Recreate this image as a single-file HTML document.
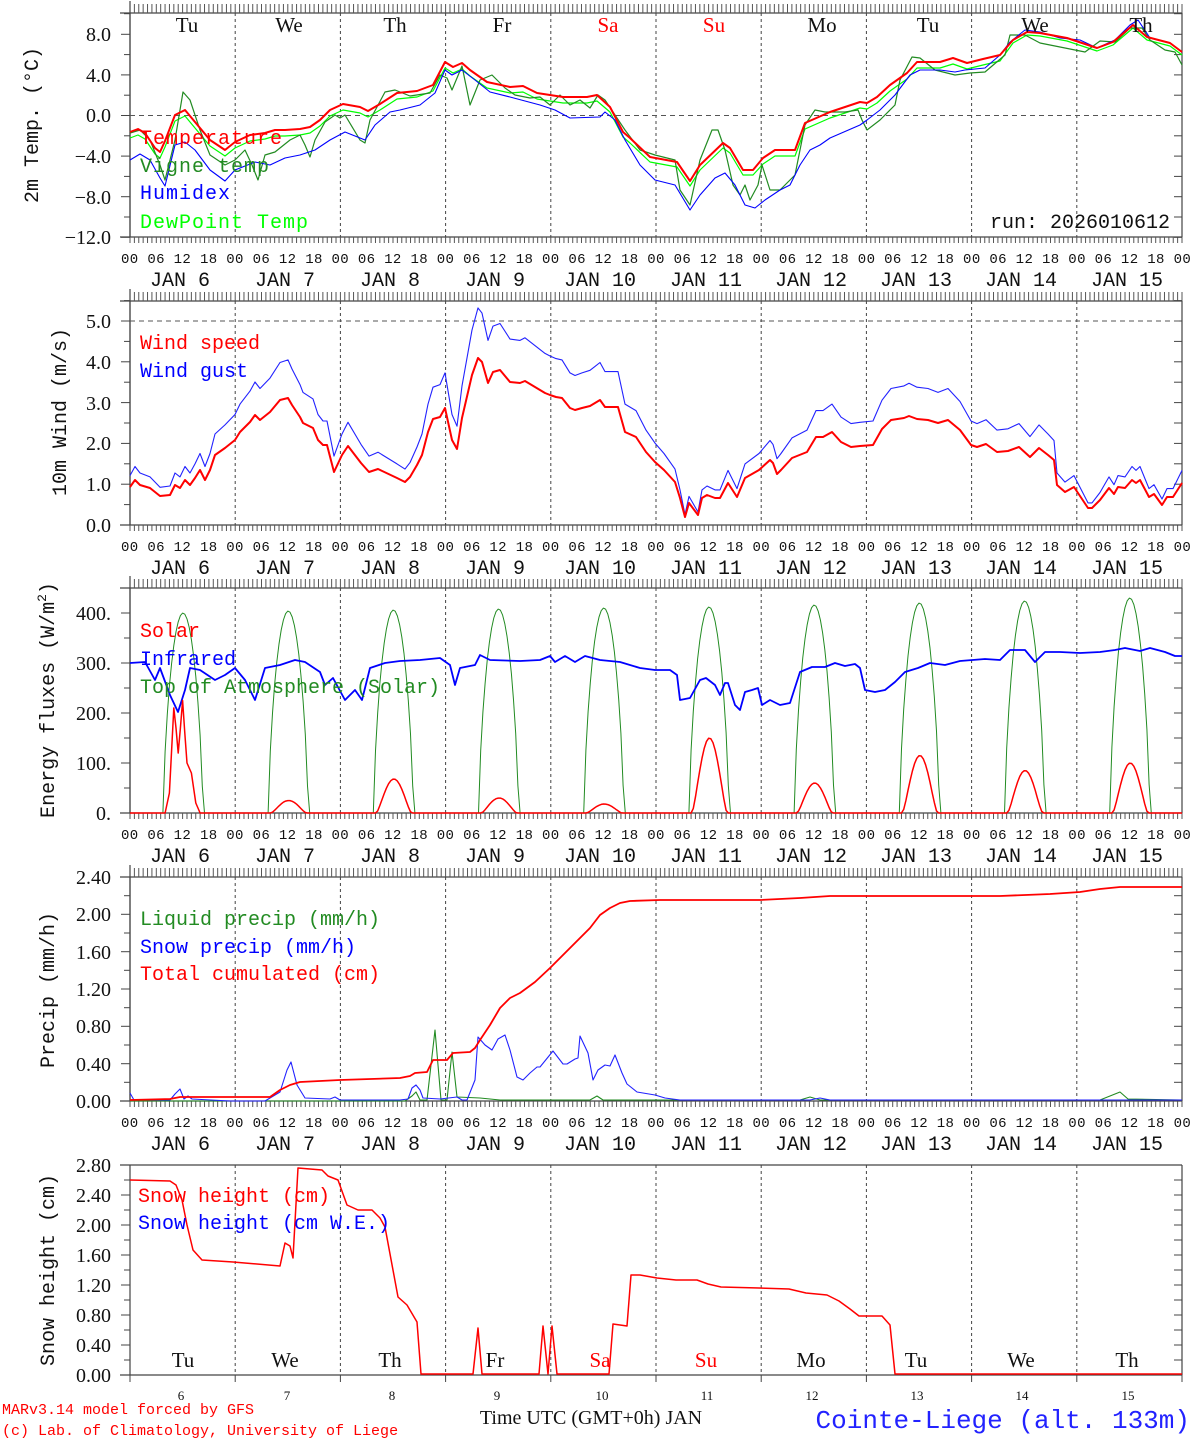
<!DOCTYPE html>
<html><head><meta charset="utf-8">
<style>
html,body{margin:0;padding:0;background:#fff;}
svg{display:block;}
.s{font-family:"Liberation Serif",serif;}
.m{font-family:"Liberation Mono",monospace;}
.yl{font-family:"Liberation Serif",serif;font-size:20px;text-anchor:end;fill:#111;}
.hr{font-family:"Liberation Mono",monospace;font-size:14px;letter-spacing:0.37px;fill:#111;white-space:pre;}
.jn{font-family:"Liberation Mono",monospace;font-size:20px;fill:#111;text-anchor:middle;white-space:pre;}
.lg{font-family:"Liberation Mono",monospace;font-size:20px;}
.dn{font-family:"Liberation Serif",serif;font-size:21px;text-anchor:middle;fill:#111;}
.ti{font-family:"Liberation Mono",monospace;font-size:20px;fill:#111;text-anchor:middle;}
</style></head>
<body>
<svg id="c" width="1194" height="1440" viewBox="0 0 1194 1440" xmlns="http://www.w3.org/2000/svg">
<g id="geo"></g>

<!-- Panel 1 texts -->
<g class="dn">
<text x="187" y="32">Tu</text><text x="289" y="32">We</text><text x="395" y="32">Th</text><text x="502" y="32">Fr</text><text x="608" y="32" fill="#f00">Sa</text><text x="714" y="32" fill="#f00">Su</text><text x="822" y="32">Mo</text><text x="928" y="32">Tu</text><text x="1035" y="32">We</text><text x="1141" y="32">Th</text>
</g>
<g class="yl">
<text x="111" y="41">8.0</text><text x="111" y="82">4.0</text><text x="111" y="122">0.0</text><text x="111" y="163">−4.0</text><text x="111" y="204">−8.0</text><text x="111" y="244">−12.0</text>
</g>
<text class="ti" transform="translate(38,125) rotate(-90)">2m Temp. (°C)</text>
<g class="lg">
<text x="140" y="144" fill="#f00" letter-spacing="1">Temperature</text>
<text x="140" y="172" fill="#228b22" letter-spacing="1">Vigne temp</text>
<text x="140" y="199" fill="#00f" letter-spacing="1">Humidex</text>
<text x="140" y="228" fill="#0f0" letter-spacing="1">DewPoint Temp</text>
<text x="990" y="228" fill="#111">run: 2026010612</text>
</g>
<text class="hr" x="121" y="263">00 06 12 18 00 06 12 18 00 06 12 18 00 06 12 18 00 06 12 18 00 06 12 18 00 06 12 18 00 06 12 18 00 06 12 18 00 06 12 18 00</text>
<g class="jn">
<text x="180" y="286">JAN  6</text><text x="285" y="286">JAN  7</text><text x="390" y="286">JAN  8</text><text x="495" y="286">JAN  9</text><text x="600" y="286">JAN 10</text><text x="706" y="286">JAN 11</text><text x="811" y="286">JAN 12</text><text x="916" y="286">JAN 13</text><text x="1021" y="286">JAN 14</text><text x="1127" y="286">JAN 15</text>
</g>

<!-- Panel 2 texts -->
<g class="yl">
<text x="111" y="532">0.0</text><text x="111" y="491">1.0</text><text x="111" y="450">2.0</text><text x="111" y="410">3.0</text><text x="111" y="369">4.0</text><text x="111" y="328">5.0</text>
</g>
<text class="ti" transform="translate(66,412) rotate(-90)">10m Wind (m/s)</text>
<g class="lg">
<text x="140" y="349" fill="#f00">Wind speed</text>
<text x="140" y="377" fill="#00f">Wind gust</text>
</g>
<text class="hr" x="121" y="551">00 06 12 18 00 06 12 18 00 06 12 18 00 06 12 18 00 06 12 18 00 06 12 18 00 06 12 18 00 06 12 18 00 06 12 18 00 06 12 18 00</text>
<g class="jn">
<text x="180" y="574">JAN  6</text><text x="285" y="574">JAN  7</text><text x="390" y="574">JAN  8</text><text x="495" y="574">JAN  9</text><text x="600" y="574">JAN 10</text><text x="706" y="574">JAN 11</text><text x="811" y="574">JAN 12</text><text x="916" y="574">JAN 13</text><text x="1021" y="574">JAN 14</text><text x="1127" y="574">JAN 15</text>
</g>

<!-- Panel 3 texts -->
<g class="yl">
<text x="111" y="820">0.</text><text x="111" y="770">100.</text><text x="111" y="720">200.</text><text x="111" y="670">300.</text><text x="111" y="620">400.</text>
</g>
<text class="ti" transform="translate(54,700) rotate(-90)">Energy fluxes (W/m<tspan font-size="13" dy="-8">2</tspan><tspan dy="8">)</tspan></text>
<g class="lg">
<text x="140" y="637" fill="#f00">Solar</text>
<text x="140" y="665" fill="#00f">Infrared</text>
<text x="140" y="693" fill="#228b22">Top of Atmosphere (Solar)</text>
</g>
<text class="hr" x="121" y="839">00 06 12 18 00 06 12 18 00 06 12 18 00 06 12 18 00 06 12 18 00 06 12 18 00 06 12 18 00 06 12 18 00 06 12 18 00 06 12 18 00</text>
<g class="jn">
<text x="180" y="862">JAN  6</text><text x="285" y="862">JAN  7</text><text x="390" y="862">JAN  8</text><text x="495" y="862">JAN  9</text><text x="600" y="862">JAN 10</text><text x="706" y="862">JAN 11</text><text x="811" y="862">JAN 12</text><text x="916" y="862">JAN 13</text><text x="1021" y="862">JAN 14</text><text x="1127" y="862">JAN 15</text>
</g>

<!-- Panel 4 texts -->
<g class="yl">
<text x="111" y="1108">0.00</text><text x="111" y="1071">0.40</text><text x="111" y="1033">0.80</text><text x="111" y="996">1.20</text><text x="111" y="959">1.60</text><text x="111" y="921">2.00</text><text x="111" y="884">2.40</text>
</g>
<text class="ti" transform="translate(54,990) rotate(-90)">Precip (mm/h)</text>
<g class="lg">
<text x="140" y="925" fill="#228b22">Liquid precip (mm/h)</text>
<text x="140" y="953" fill="#00f">Snow precip (mm/h)</text>
<text x="140" y="980" fill="#f00">Total cumulated (cm)</text>
</g>
<text class="hr" x="121" y="1127">00 06 12 18 00 06 12 18 00 06 12 18 00 06 12 18 00 06 12 18 00 06 12 18 00 06 12 18 00 06 12 18 00 06 12 18 00 06 12 18 00</text>
<g class="jn">
<text x="180" y="1150">JAN  6</text><text x="285" y="1150">JAN  7</text><text x="390" y="1150">JAN  8</text><text x="495" y="1150">JAN  9</text><text x="600" y="1150">JAN 10</text><text x="706" y="1150">JAN 11</text><text x="811" y="1150">JAN 12</text><text x="916" y="1150">JAN 13</text><text x="1021" y="1150">JAN 14</text><text x="1127" y="1150">JAN 15</text>
</g>

<!-- Panel 5 texts -->
<g class="yl">
<text x="111" y="1382">0.00</text><text x="111" y="1352">0.40</text><text x="111" y="1322">0.80</text><text x="111" y="1292">1.20</text><text x="111" y="1262">1.60</text><text x="111" y="1232">2.00</text><text x="111" y="1202">2.40</text><text x="111" y="1172">2.80</text>
</g>
<text class="ti" transform="translate(54,1270) rotate(-90)">Snow height (cm)</text>
<g class="lg">
<text x="138" y="1202" fill="#f00">Snow height (cm)</text>
<text x="138" y="1229" fill="#00f">Snow height (cm W.E.)</text>
</g>
<g class="dn">
<text x="183" y="1367">Tu</text><text x="285" y="1367">We</text><text x="390" y="1367">Th</text><text x="495" y="1367">Fr</text><text x="600" y="1367" fill="#f00">Sa</text><text x="706" y="1367" fill="#f00">Su</text><text x="811" y="1367">Mo</text><text x="916" y="1367">Tu</text><text x="1021" y="1367">We</text><text x="1127" y="1367">Th</text>
</g>
<g class="s" font-size="13" text-anchor="middle" fill="#111">
<text x="181" y="1400">6</text><text x="287" y="1400">7</text><text x="392" y="1400">8</text><text x="497" y="1400">9</text><text x="602" y="1400">10</text><text x="707" y="1400">11</text><text x="812" y="1400">12</text><text x="917" y="1400">13</text><text x="1022" y="1400">14</text><text x="1128" y="1400">15</text>
</g>
<text class="s" x="591" y="1424" font-size="20" text-anchor="middle" fill="#111">Time UTC (GMT+0h) JAN</text>
<g class="m" font-size="15" fill="#f00">
<text x="2" y="1414">MARv3.14 model forced by GFS</text>
<text x="2" y="1435">(c) Lab. of Climatology, University of Liege</text>
</g>
<text class="m" x="1190" y="1428" font-size="26" text-anchor="end" fill="#22f">Cointe-Liege (alt. 133m)</text>
</svg>

<script>
(function(){
var NS="http://www.w3.org/2000/svg";
var g=document.getElementById("geo");
function el(n,a){var e=document.createElementNS(NS,n);for(var k in a)e.setAttribute(k,a[k]);g.appendChild(e);return e;}
function line(x1,y1,x2,y2,c,w,d){var a={x1:x1,y1:y1,x2:x2,y2:y2,stroke:c||"#333","stroke-width":w||1};if(d)a["stroke-dasharray"]=d;el("line",a);}
function poly(p,c,w){el("polyline",{points:p.map(function(q){return q[0].toFixed(1)+","+q[1].toFixed(1)}).join(" "),fill:"none",stroke:c,"stroke-width":w||1,"stroke-linejoin":"round"});}
var X0=130,X1=1182,DW=105.2,HW=DW/24;
var P=[[13,237],[301,525],[588,813],[877,1101],[1165,1375]];
var YT=[
 [[34.3,74.9,115.5,156.1,196.7,237.3],[13.7,54.6,95.2,135.8,176.4,217]],
 [[525,484.2,443.4,402.6,361.8,321],[504.6,463.8,423,382.2,341.4,300.6]],
 [[813,763,713,663,613],[788,738,688,638,588]],
 [[1101,1063.7,1026.3,989,951.7,914.3,877],[1082.3,1045,1007.7,970.3,933,895.7]],
 [[1375,1345,1315,1285,1255,1225,1195,1165],[1360,1330,1300,1270,1240,1210,1180]]
];
P.forEach(function(p,i){
 var t=p[0],b=p[1];
 for(var d=1;d<10;d++){var x=X0+DW*d;line(x,t,x,b,"#444",1,"3,3");}
 line(X0,t,X0,b,"#444",1.2);
 line(X1,t,X1,b,"#444",1.2);
 line(120,t,X1,t,"#444",1.2);
 line(120,b,X1,b,"#444",1.2);
 if(i<4){
  for(var h=0;h<=240;h++){var x=X0+HW*h;
   line(x,t-9,x,t,"#555",1);
   line(x,b,x,b+6,"#555",1);}
  line(X0,t-12,X0,b,"#444",1.2);
 } else {
  for(var d=0;d<=10;d++){var x=X0+DW*d;line(x,b,x,b+7,"#444",1);}
 }
 YT[i][0].forEach(function(y){line(121,y,X0,y,"#444",1);line(X1-8,y,X1,y,"#444",1);});
 YT[i][1].forEach(function(y){line(124,y,X0,y,"#444",1);line(X1-8,y,X1,y,"#444",1);});
});
line(X0,115.5,X1,115.5,"#555",1,"5,4");
line(X0,321,X1,321,"#555",1,"5,4");

var red=[[130,132],[138,129],[145,133],[155,148],[160,152],[165,141],[175,115],[185,110],[195,122],[210,140],[225,150],[235,142],[250,135],[265,133],[275,130],[285,130],[300,129],[310,127],[320,120],[330,110],[343,104],[360,107],[368,111],[380,104],[397,93],[417,91],[433,85],[445,62],[453,67],[462,63],[470,70],[487,82],[510,87],[523,86],[537,93],[563,97],[587,97],[597,95],[610,107],[623,132],[630,138],[650,157],[677,162],[690,181],[700,165],[723,143],[730,148],[743,170],[753,170],[763,158],[775,150],[795,150],[805,123],[830,112],[860,102],[867,103],[877,97],[890,85],[907,73],[917,62],[940,62],[953,58],[967,63],[983,59],[1000,55],[1013,40],[1027,32],[1040,33],[1067,38],[1097,48],[1113,42],[1133,25],[1147,37],[1170,43],[1182,52]];
var blue=[[130,160],[140,154],[150,160],[160,178],[165,186],[175,145],[185,142],[195,150],[210,170],[225,181],[235,170],[255,162],[270,165],[285,158],[300,155],[315,150],[330,140],[345,132],[355,136],[365,140],[375,125],[390,112],[400,110],[420,105],[435,93],[445,70],[452,75],[462,70],[475,80],[490,92],[510,97],[540,105],[555,110],[570,118],[600,117],[605,112],[615,120],[625,140],[640,165],[655,180],[675,185],[690,210],[700,195],[715,178],[725,173],[735,185],[745,205],[755,208],[765,200],[780,190],[790,185],[800,165],[810,150],[820,145],[830,138],[860,125],[867,120],[880,110],[895,95],[910,75],[920,70],[940,70],[955,72],[965,70],[985,68],[1000,55],[1010,42],[1025,30],[1040,32],[1060,38],[1080,40],[1097,48],[1115,40],[1130,25],[1138,20],[1150,38],[1170,43],[1182,52]];
var vig=[[130,133],[140,130],[150,140],[160,165],[165,180],[175,140],[183,92],[190,100],[200,130],[210,155],[225,165],[235,160],[245,150],[252,165],[258,180],[265,155],[275,152],[290,140],[300,135],[305,145],[310,157],[315,140],[325,122],[335,115],[340,118],[345,115],[360,140],[365,143],[370,120],[385,92],[395,90],[410,96],[430,93],[440,75],[447,78],[452,90],[462,66],[470,105],[480,80],[492,75],[505,88],[515,95],[530,98],[540,97],[550,105],[560,95],[570,105],[580,100],[590,108],[598,95],[605,100],[615,115],[625,130],[640,150],[655,155],[675,160],[680,190],[690,205],[700,160],[712,130],[718,130],[725,150],[733,185],[740,195],[745,185],[750,200],[758,185],[762,165],[770,190],[780,190],[795,175],[805,125],[815,110],[825,112],[835,112],[845,112],[858,110],[862,120],[867,130],[880,120],[895,105],[900,80],[912,57],[920,58],[935,70],[955,75],[970,73],[985,72],[1005,55],[1010,35],[1025,35],[1040,43],[1050,45],[1065,48],[1085,52],[1100,41],[1115,42],[1130,28],[1142,28],[1150,40],[1165,50],[1175,52],[1182,65]];
var dew=red.map(function(q){var o=q[0]>1000?3:(q[0]>600&&q[0]<760?5:6);return [q[0],q[1]+o];});
poly(dew,"#0f0",1.2);
poly(vig,"#228b22",1.2);
poly(blue,"#00f",1.1);
poly(red,"#f00",2);

var ws=[[130,487],[135,480],[140,485],[150,488],[160,496],[170,495],[175,485],[180,488],[185,480],[190,485],[195,478],[200,470],[205,480],[210,470],[215,455],[225,448],[235,440],[240,432],[250,422],[255,415],[260,420],[270,412],[280,400],[288,398],[292,405],[300,417],[303,423],[313,428],[318,440],[323,445],[327,445],[334,472],[342,455],[348,446],[361,463],[369,472],[378,469],[397,478],[405,482],[410,477],[417,465],[422,455],[428,432],[433,419],[440,417],[445,408],[452,440],[457,449],[462,418],[472,375],[478,358],[482,362],[488,383],[493,372],[500,370],[510,382],[520,383],[525,381],[545,393],[550,395],[556,397],[562,398],[570,408],[575,410],[582,408],[590,406],[595,403],[600,400],[605,407],[618,407],[625,432],[636,437],[646,452],[655,462],[664,470],[675,482],[680,498],[685,517],[689,503],[698,515],[702,498],[707,495],[715,498],[720,498],[728,483],[737,497],[745,478],[759,470],[770,460],[773,463],[777,474],[781,470],[792,458],[807,452],[816,437],[823,437],[832,432],[841,442],[851,447],[860,446],[873,445],[882,429],[891,420],[904,418],[909,416],[917,419],[928,420],[938,423],[948,420],[960,430],[971,445],[977,447],[986,444],[997,452],[1008,451],[1019,447],[1030,457],[1039,448],[1048,455],[1054,460],[1057,485],[1065,492],[1074,487],[1088,508],[1092,508],[1100,500],[1109,488],[1114,494],[1118,487],[1125,488],[1132,480],[1136,483],[1140,480],[1149,497],[1154,494],[1162,505],[1167,497],[1173,497],[1182,483]];
var wg=ws.map(function(q){return [q[0],525-(525-q[1])*1.3];});
poly(wg,"#22f",1.1);
poly(ws,"#f00",2);

function yE(v){return 813-v*0.5;}
var toaP=[400,404,406,408,410,412,416,420,424,430];
var solP=[0,25,68,30,18,150,60,115,85,100];
var toa=[],sol=[];
for(var d=0;d<10;d++){
 for(var h=0;h<24;h+=0.5){
  var x=X0+DW*d+HW*h;
  var s=(h-7.6)/9; var v=(s>0&&s<1)?toaP[d]*Math.pow(Math.sin(Math.PI*s),0.6):0;
  toa.push([x,yE(v)]);
  var s2=(h-8.2)/8; var v2=(s2>0&&s2<1)?solP[d]*Math.pow(Math.sin(Math.PI*s2),1.3):0;
  if(d==0){var tb={8:0,9:40,10:210,10.5:170,11:120,11.5:170,12:225,12.5:160,13:100,14:80,15:20,16:0};v2=(h in tb)?tb[h]:(h>8&&h<16?null:0);}
  if(v2!==null) sol.push([x,yE(v2)]);
 }
}
toa.push([X1,813]);sol.push([X1,813]);
var ir=[[130,663],[145,662],[155,680],[160,668],[170,695],[178,712],[185,690],[190,668],[200,670],[215,680],[225,675],[235,668],[245,680],[255,700],[265,668],[280,665],[295,660],[305,662],[320,672],[325,685],[333,678],[345,700],[355,690],[362,700],[370,668],[385,663],[400,661],[420,660],[440,658],[450,665],[455,685],[460,668],[475,665],[480,655],[490,660],[520,661],[540,660],[550,656],[555,662],[565,656],[575,662],[585,656],[600,660],[620,662],[640,668],[655,670],[670,670],[677,675],[680,700],[690,698],[700,680],[706,678],[715,685],[720,695],[725,683],[728,683],[735,705],[740,710],[745,692],[752,690],[758,688],[762,705],[770,700],[780,705],[790,703],[800,672],[812,667],[825,667],[835,663],[845,666],[855,664],[860,668],[865,690],[875,692],[885,690],[895,682],[905,672],[918,668],[930,663],[945,665],[960,661],[985,659],[1000,660],[1010,650],[1025,650],[1035,662],[1045,652],[1060,652],[1080,653],[1100,652],[1115,650],[1125,648],[1140,651],[1150,648],[1165,652],[1175,656],[1182,656]];
poly(toa,"#228b22",1);
poly(ir,"#00f",1.8);
poly(sol,"#f00",1.5);

var tot=[[130,1100],[170,1099],[180,1097],[270,1097],[280,1090],[290,1085],[300,1082],[340,1080],[400,1078],[410,1076],[415,1073],[427,1072],[433,1060],[447,1060],[453,1053],[470,1052],[475,1048],[480,1040],[490,1025],[500,1008],[510,998],[520,993],[535,982],[550,968],[565,953],[575,943],[590,928],[600,915],[610,908],[620,903],[630,901],[660,900],[760,900],[800,898],[830,896],[1000,896],[1050,894],[1080,892],[1100,889],[1120,887],[1182,887]];
var snp=[[130,1093],[134,1100],[170,1100],[175,1094],[180,1089],[184,1099],[188,1096],[192,1099],[230,1101],[265,1101],[270,1098],[280,1092],[287,1070],[291,1062],[297,1085],[305,1098],[330,1099],[335,1097],[340,1100],[400,1100],[408,1099],[412,1088],[416,1085],[420,1090],[423,1098],[440,1099],[457,1097],[462,1100],[467,1100],[475,1080],[478,1037],[485,1045],[492,1050],[498,1039],[505,1035],[510,1050],[517,1077],[523,1080],[530,1073],[537,1067],[540,1067],[553,1051],[563,1064],[567,1064],[575,1059],[578,1058],[580,1036],[588,1053],[593,1080],[598,1070],[605,1065],[610,1066],[615,1055],[622,1073],[627,1084],[637,1092],[655,1095],[665,1098],[680,1100],[810,1100],[820,1098],[830,1100],[1182,1100]];
var liq=[[130,1101],[405,1101],[412,1096],[416,1092],[420,1100],[427,1100],[435,1030],[441,1100],[447,1100],[452,1052],[457,1097],[480,1098],[500,1100],[590,1100],[597,1096],[603,1100],[800,1100],[810,1097],[820,1100],[1100,1100],[1110,1096],[1120,1092],[1128,1099],[1182,1100]];
poly(liq,"#228b22",1.1);
poly(snp,"#22f",1.1);
poly(tot,"#f00",1.8);

var sh=[[130,1180],[170,1181],[176,1185],[182,1200],[187,1225],[193,1250],[202,1260],[233,1262],[280,1266],[285,1243],[290,1246],[293,1258],[298,1168],[322,1170],[328,1176],[338,1180],[347,1205],[358,1210],[372,1210],[380,1218],[385,1227],[398,1297],[407,1305],[417,1322],[421,1374],[473,1374],[478,1328],[482,1374],[539,1374],[543,1326],[548,1374],[552,1326],[557,1374],[609,1374],[613,1324],[627,1326],[631,1275],[640,1275],[657,1278],[676,1280],[697,1280],[708,1284],[721,1287],[759,1288],[789,1289],[806,1293],[827,1295],[839,1301],[850,1309],[859,1316],[882,1316],[890,1325],[895,1374],[1182,1374]];
poly(sh,"#f00",1.5);
})();
</script>
</body></html>
